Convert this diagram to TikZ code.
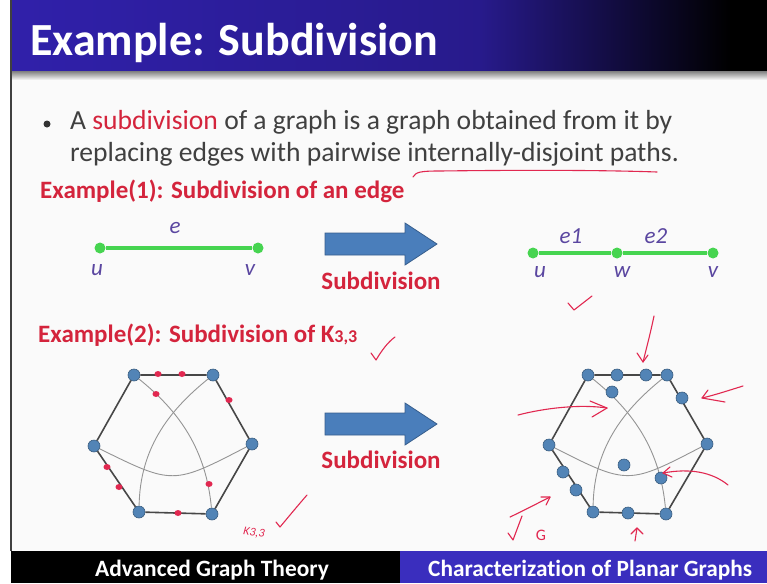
\documentclass[tikz,border=0pt]{standalone}
\usepackage{fontspec}
\setmainfont{Carlito}[Ligatures=NoCommon]
\usetikzlibrary{shapes.geometric}
\definecolor{hdrblue}{RGB}{48,32,170}
\definecolor{barblue}{RGB}{58,46,190}
\definecolor{slidered}{RGB}{212,36,60}
\definecolor{txtgray}{RGB}{64,64,64}
\definecolor{gedge}{RGB}{70,212,80}
\definecolor{lblpurple}{RGB}{90,70,160}
\definecolor{nodeblue}{RGB}{82,132,182}
\definecolor{arrblue}{RGB}{74,126,187}
\definecolor{ink}{RGB}{225,40,80}
\definecolor{slidebg}{RGB}{250,250,250}
\begin{document}
\begin{tikzpicture}[x=1pt,y=-1pt,
  gdot/.style={circle,fill=gedge,minimum size=11pt,inner sep=0pt},
  gline/.style={gedge,line width=4pt},
  elab/.style={text=lblpurple,font=\itshape\fontsize{23}{23}\selectfont,inner sep=0pt},
  hnode/.style={circle,fill=nodeblue,draw=nodeblue!70!black,line width=0.6pt,minimum size=12pt,inner sep=0pt},
  hedge/.style={draw=black!72,line width=1.6pt},
  hcurve/.style={draw=black!42,line width=0.9pt},
  rdot/.style={ellipse,fill=ink,minimum width=7pt,minimum height=6pt,inner sep=0pt},
  inkline/.style={draw=ink,line width=1.1pt,line cap=round,line join=round},
  redhead/.style={text=slidered,font=\bfseries\fontsize{25}{25}\selectfont,inner sep=0pt},
  bararrow/.style={fill=arrblue,draw=arrblue!75!black,line width=0.8pt}
]
\useasboundingbox (0,0) rectangle (767,583);
\fill[white] (0,0) rectangle (767,583);
\fill[slidebg] (11,72) rectangle (767,551);
% header
\shade[left color=hdrblue,right color=hdrblue!82!black] (11,0) rectangle (480,72);
\shade[left color=hdrblue!82!black,right color=black] (479.5,0) rectangle (730,72);
\fill[black] (729.5,0) rectangle (767,72);
\shade[top color=black!45,bottom color=slidebg] (11,72) rectangle (767,80);
\draw[black!75,line width=1.2pt] (11,0) -- (11,551);
\node[anchor=base west,inner sep=0pt,text=white,font=\bfseries\fontsize{46}{46}\selectfont] (title) at (30,56) {Example: Subdivision};
% bullet text
\node[circle,fill=txtgray!80!black,minimum size=7pt,inner sep=0pt] (bullet) at (47,124) {};
\node[anchor=base west,inner sep=0pt,text=txtgray,font=\fontsize{27.6}{27.6}\selectfont] (line1) at (70,129) {A \textcolor{slidered}{subdivision} of a graph is a graph obtained from it by};
\node[anchor=base west,inner sep=0pt,text=txtgray,font=\fontsize{27.6}{27.6}\selectfont] (line2) at (70,161) {replacing edges with pairwise internally-disjoint paths.};
% Example 1
\node[redhead,anchor=base west] (ex1) at (40,198) {Example(1): Subdivision of an edge};
\node[gdot] (u1) at (100,248) {};
\node[gdot] (v1) at (258,248) {};
\draw[gline] (u1) -- (v1);
\node[elab] (e) at (175,228) {e};
\node[elab] (lu1) at (97,270) {u};
\node[elab] (lv1) at (250,270) {v};
\draw[bararrow] (325,233) -- (405,233) -- (405,223) -- (437,244) -- (405,265) -- (405,255) -- (325,255) -- cycle;
\node[redhead] (sub1) at (381,281) {Subdivision};
\node[gdot] (u2) at (533,253) {};
\node[gdot] (w2) at (617,253) {};
\node[gdot] (v2) at (713,253) {};
\draw[gline] (u2) -- (w2);
\draw[gline] (w2) -- (v2);
\node[elab] (e1) at (571,236) {e1};
\node[elab] (e2) at (656,236) {e2};
\node[elab] (lu2) at (540,272) {u};
\node[elab] (lw2) at (622,272) {w};
\node[elab] (lv2) at (713,272) {v};
% Example 2
\node[redhead,anchor=base west] (ex2) at (38,342) {Example(2): Subdivision of K{\fontsize{18}{18}\selectfont3,3}};
\draw[bararrow] (325,413) -- (405,413) -- (405,403) -- (437,424) -- (405,445) -- (405,435) -- (325,435) -- cycle;
\node[redhead] (sub2) at (381,460) {Subdivision};
% left K33
\node[hnode] (TL) at (134,375) {};
\node[hnode] (TR) at (213,375) {};
\node[hnode] (R) at (252,444) {};
\node[hnode] (BR) at (212,514) {};
\node[hnode] (BL) at (139,512) {};
\node[hnode] (L) at (94,446) {};
\path[hedge] (TL) -- (TR) (TR) -- (R) (R) -- (BR) (BR) -- (BL) (BL) -- (L) (L) -- (TL);
\path[hcurve] (TL) .. controls (180,412) and (206,450) .. (BR);
\path[hcurve] (TR) .. controls (167,412) and (140,450) .. (BL);
\path[hcurve] (L) .. controls (173,485) .. (R);
\foreach \p in {(158,374),(182,374),(156,394),(229,400),(107,467),(119,487),(209,484),(178,513)}
  \node[rdot] at \p {};
% right subdivided K33
\node[hnode] (TL') at (588,375) {};
\node[hnode] (TR') at (667,375) {};
\node[hnode] (R') at (707,444) {};
\node[hnode] (BR') at (666,514) {};
\node[hnode] (BL') at (593,512) {};
\node[hnode] (L') at (549,445) {};
\path[hedge] (TL') -- (TR') (TR') -- (R') (R') -- (BR') (BR') -- (BL') (BL') -- (L') (L') -- (TL');
\path[hcurve] (TL') .. controls (634,412) and (660,450) .. (BR');
\path[hcurve] (TR') .. controls (621,412) and (594,450) .. (BL');
\path[hcurve] (L') .. controls (628,485) .. (R');
\foreach \p/\n in {(617,375)/s1,(646,375)/s2,(612,392)/s3,(682,398)/s4,(624,465)/s5,(661,478)/s6,(563,472)/s7,(576,490)/s8,(628,513)/s9}
  \node[hnode] (\n) at \p {};
% bottom bar
\fill[black] (11,551) rectangle (400,583);
\fill[barblue] (400,551) rectangle (767,583);
\node[anchor=base west,inner sep=0pt,text=white,font=\bfseries\fontsize{23.4}{23.4}\selectfont] (foot1) at (95,576) {Advanced Graph Theory};
\node[anchor=base west,inner sep=0pt,text=white,font=\bfseries\fontsize{23.3}{23.3}\selectfont] (foot2) at (428,576) {Characterization of Planar Graphs};
% handwritten annotations
\draw[inkline] (413,177) .. controls (416,172) and (420,171) .. (440,171) .. controls (520,170) and (600,170) .. (657,172);
\draw[inkline] (568,303) -- (574,310) -- (592,296);
\draw[inkline] (371,353) -- (376,360) .. controls (382,350) and (388,342) .. (395,337);
\draw[inkline] (276,522) -- (280,527) .. controls (290,515) and (300,503) .. (307,495);
\node[text=ink,font=\itshape\fontsize{12}{12}\selectfont,inner sep=0pt,rotate=-8] (k33) at (254,533) {K3,3};
\draw[inkline] (654,316) .. controls (650,335) and (646,350) .. (643,362);
\draw[inkline] (637,353) -- (643,362) -- (648,355);
\draw[inkline] (743,386) .. controls (730,390) and (715,395) .. (702,398);
\draw[inkline] (708,390) -- (702,398) -- (725,402);
\draw[inkline] (518,415) .. controls (545,408) and (580,404) .. (607,408);
\draw[inkline] (590,401) -- (607,408) -- (592,417);
\draw[inkline] (728,485) .. controls (712,472) and (690,468) .. (663,473);
\draw[inkline] (670,467) -- (663,473) -- (672,477);
\draw[inkline] (635,541) -- (637,528);
\draw[inkline] (631,534) -- (637,528) -- (643,534);
\draw[inkline] (510,517) .. controls (525,510) and (538,503) .. (550,497);
\draw[inkline] (541,497) -- (550,497) -- (546,505);
\draw[inkline] (508,533) -- (513,540) -- (522,516);
\node[text=ink,font=\fontsize{16}{16}\selectfont,inner sep=0pt] (G) at (541,535) {G};
\end{tikzpicture}
\end{document}
